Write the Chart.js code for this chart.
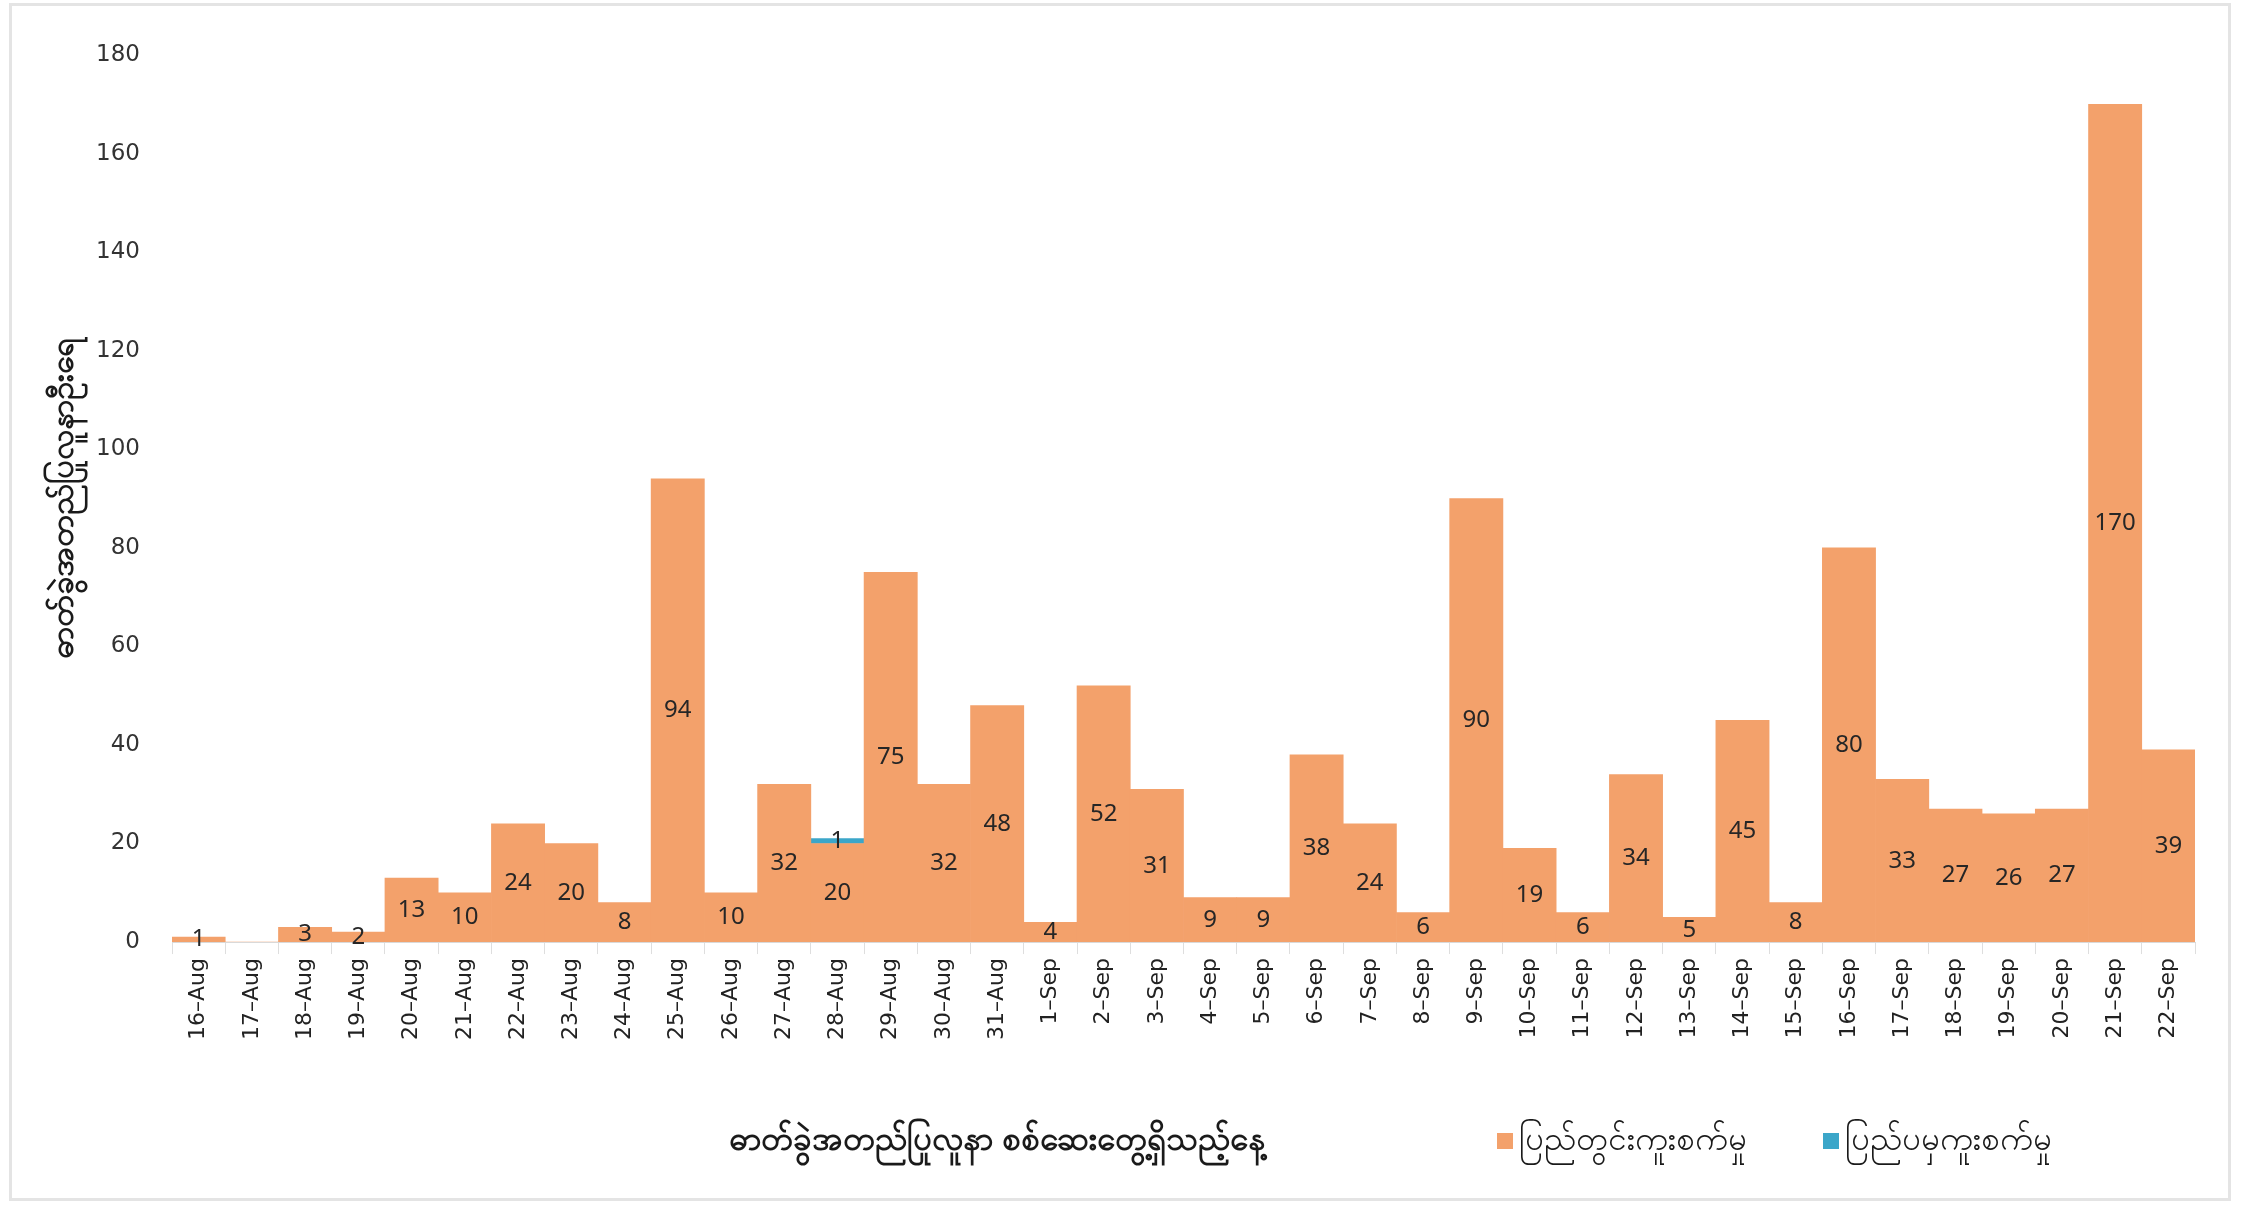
<!DOCTYPE html>
<html>
<head>
<meta charset="utf-8">
<script src="https://cdn.jsdelivr.net/npm/chart.js@4.4.1/dist/chart.umd.min.js"></script>
<style>
  html, body { margin: 0; padding: 0; background: #fff; }
  .wrap { position: relative; width: 2242px; height: 1205px; }
  .frame {
    position: absolute; left: 9px; top: 3px; width: 2216px; height: 1192px;
    border: 3px solid #e4e4e4; pointer-events: none;
  }
</style>
</head>
<body>
<div class="wrap">
  <canvas id="chart" width="2242" height="1205"></canvas>
  <div class="frame"></div>
</div>
<script>
const days = [
  "16–Aug", "17–Aug", "18–Aug", "19–Aug", "20–Aug", "21–Aug", "22–Aug", "23–Aug",
  "24–Aug", "25–Aug", "26–Aug", "27–Aug", "28–Aug", "29–Aug", "30–Aug", "31–Aug",
  "1–Sep", "2–Sep", "3–Sep", "4–Sep", "5–Sep", "6–Sep", "7–Sep", "8–Sep",
  "9–Sep", "10–Sep", "11–Sep", "12–Sep", "13–Sep", "14–Sep", "15–Sep", "16–Sep",
  "17–Sep", "18–Sep", "19–Sep", "20–Sep", "21–Sep", "22–Sep",
];
const localCases = [
  1, 0, 3, 2, 13, 10, 24, 20,
  8, 94, 10, 32, 20, 75, 32, 48,
  4, 52, 31, 9, 9, 38, 24, 6,
  90, 19, 6, 34, 5, 45, 8, 80,
  33, 27, 26, 27, 170, 39,
];
const importedCases = [
  null, null, null, null, null, null, null, null,
  null, null, null, null, 1, null, null, null,
  null, null, null, null, null, null, null, null,
  null, null, null, null, null, null, null, null,
  null, null, null, null, null, null,
];
const yTicks = [0, 20, 40, 60, 80, 100, 120, 140, 160, 180];

const LOCAL_LABEL = "ပြည်တွင်းကူးစက်မှု";
const IMPORTED_LABEL = "ပြည်ပမှကူးစက်မှု";
const X_TITLE = "ဓာတ်ခွဲအတည်ပြုလူနာ စစ်ဆေးတွေ့ရှိသည့်နေ့";
const Y_TITLE = "ဓာတ်ခွဲအတည်ပြုလူနာဦးရေ";

const ORANGE = "#f3a16b";
const BLUE = "#3ba6c9";
const FONT = "'Noto Sans', 'DejaVu Sans', sans-serif";

// value labels in the middle of each bar segment
const barValuePlugin = {
  id: "barValues",
  afterDatasetsDraw(chart) {
    const { ctx } = chart;
    ctx.save();
    ctx.font = `24px ${FONT}`;
    ctx.fillStyle = "#262626";
    ctx.textAlign = "center";
    ctx.textBaseline = "middle";
    chart.data.datasets.forEach((ds, i) => {
      const meta = chart.getDatasetMeta(i);
      meta.data.forEach((bar, j) => {
        const v = ds.data[j];
        if (!v) return;
        ctx.fillText(String(v), bar.x, (bar.y + bar.base) / 2);
      });
    });
    ctx.restore();
  },
};

// x title and legend share one row under the tick labels
const bottomRowPlugin = {
  id: "bottomRow",
  afterDraw(chart) {
    const { ctx } = chart;
    const rowY = 1141;
    ctx.save();
    ctx.textBaseline = "middle";
    ctx.fillStyle = "#1a1a1a";
    ctx.font = `bold 33px ${FONT}`;
    ctx.textAlign = "center";
    ctx.fillText(X_TITLE, 997, rowY);

    ctx.font = `33px ${FONT}`;
    ctx.textAlign = "left";
    const items = [
      { x: 1497, ds: chart.data.datasets[0] },
      { x: 1823, ds: chart.data.datasets[1] },
    ];
    items.forEach((it) => {
      ctx.fillStyle = it.ds.backgroundColor;
      ctx.fillRect(it.x, rowY - 8, 16, 16);
      ctx.fillStyle = "#1a1a1a";
      ctx.fillText(it.ds.label, it.x + 22, rowY);
    });
    ctx.restore();
  },
};

new Chart(document.getElementById("chart"), {
  type: "bar",
  data: {
    labels: days,
    datasets: [
      {
        label: LOCAL_LABEL,
        data: localCases,
        backgroundColor: ORANGE,
        borderWidth: 0,
        barPercentage: 1,
        categoryPercentage: 1,
      },
      {
        label: IMPORTED_LABEL,
        data: importedCases,
        backgroundColor: BLUE,
        borderWidth: 0,
        barPercentage: 1,
        categoryPercentage: 1,
      },
    ],
  },
  options: {
    responsive: false,
    animation: false,
    layout: { padding: { left: 45, right: 47, top: 55, bottom: 161 } },
    plugins: {
      legend: { display: false },
      tooltip: { enabled: false },
    },
    scales: {
      x: {
        stacked: true,
        border: { display: true, color: "#d9d9d9", width: 1 },
        grid: { drawOnChartArea: false, drawTicks: true, tickLength: 12, color: "#dedede", offset: true },
        ticks: {
          color: "#222",
          font: { family: "'DejaVu Sans', sans-serif", size: 22 },
          minRotation: 90,
          maxRotation: 90,
          autoSkip: false,
          padding: 4,
        },
      },
      y: {
        stacked: true,
        min: 0,
        max: 180,
        afterBuildTicks(scale) {
          scale.ticks = yTicks.map((v) => ({ value: v }));
        },
        afterFit(scale) {
          scale.width = 127;
        },
        border: { display: false },
        grid: { display: false },
        ticks: {
          color: "#333",
          font: { family: "'DejaVu Sans', sans-serif", size: 23 },
          padding: 24,
        },
        title: {
          display: true,
          text: Y_TITLE,
          color: "#1a1a1a",
          font: { family: FONT, size: 32, weight: "bold" },
          padding: { top: 0, bottom: 0 },
        },
      },
    },
  },
  plugins: [barValuePlugin, bottomRowPlugin],
});
</script>
</body>
</html>
